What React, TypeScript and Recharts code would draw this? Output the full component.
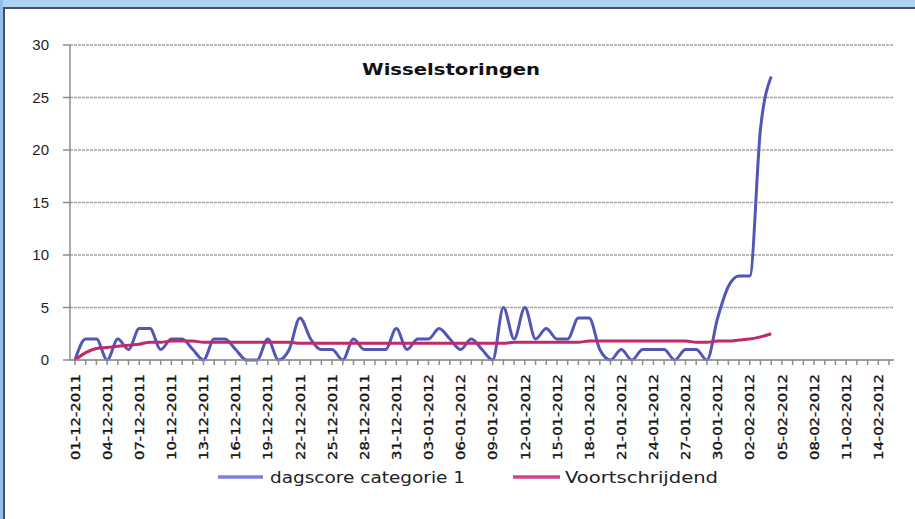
import React from 'react';
import { LineChart, Line, XAxis, YAxis, CartesianGrid } from 'recharts';

// dagen (categorieën)
const dates = [
  '01-12-2011', '02-12-2011', '03-12-2011', '04-12-2011', '05-12-2011', '06-12-2011', '07-12-2011',
  '08-12-2011', '09-12-2011', '10-12-2011', '11-12-2011', '12-12-2011', '13-12-2011', '14-12-2011',
  '15-12-2011', '16-12-2011', '17-12-2011', '18-12-2011', '19-12-2011', '20-12-2011', '21-12-2011',
  '22-12-2011', '23-12-2011', '24-12-2011', '25-12-2011', '26-12-2011', '27-12-2011', '28-12-2011',
  '29-12-2011', '30-12-2011', '31-12-2011', '01-01-2012', '02-01-2012', '03-01-2012', '04-01-2012',
  '05-01-2012', '06-01-2012', '07-01-2012', '08-01-2012', '09-01-2012', '10-01-2012', '11-01-2012',
  '12-01-2012', '13-01-2012', '14-01-2012', '15-01-2012', '16-01-2012', '17-01-2012', '18-01-2012',
  '19-01-2012', '20-01-2012', '21-01-2012', '22-01-2012', '23-01-2012', '24-01-2012', '25-01-2012',
  '26-01-2012', '27-01-2012', '28-01-2012', '29-01-2012', '30-01-2012', '31-01-2012', '01-02-2012',
  '02-02-2012', '03-02-2012', '04-02-2012', '05-02-2012', '06-02-2012', '07-02-2012', '08-02-2012',
  '09-02-2012', '10-02-2012', '11-02-2012', '12-02-2012', '13-02-2012', '14-02-2012', '15-02-2012',
];

const dagscore = [
  0, 2, 2, 0, 2, 1, 3, 3, 1, 2,
  2, 1, 0, 2, 2, 1, 0, 0, 2, 0,
  1, 4, 2, 1, 1, 0, 2, 1, 1, 1,
  3, 1, 2, 2, 3, 2, 1, 2, 1, 0,
  5, 2, 5, 2, 3, 2, 2, 4, 4, 1,
  0, 1, 0, 1, 1, 1, 0, 1, 1, 0,
  4, 7, 8, 8, 22, 27,
];

const voortschrijdend = [
  0, 0.7, 1.1, 1.2, 1.3, 1.4, 1.5, 1.7, 1.7, 1.8,
  1.8, 1.8, 1.7, 1.7, 1.7, 1.7, 1.7, 1.7, 1.7, 1.7,
  1.7, 1.6, 1.6, 1.6, 1.6, 1.6, 1.6, 1.6, 1.6, 1.6,
  1.6, 1.6, 1.6, 1.6, 1.6, 1.6, 1.6, 1.6, 1.6, 1.6,
  1.6, 1.7, 1.7, 1.7, 1.7, 1.7, 1.7, 1.7, 1.8, 1.8,
  1.8, 1.8, 1.8, 1.8, 1.8, 1.8, 1.8, 1.8, 1.7, 1.7,
  1.8, 1.8, 1.9, 2.0, 2.2, 2.5,
];

const yTicks = [0, 5, 10, 15, 20, 25, 30];
const title = 'Wisselstoringen';
const seriesNames = ['dagscore categorie 1', 'Voortschrijdend'];
const BLUE = '#5257b6';
const RED = '#bf2a6b';

const data = dates.map((date, i) => ({
  date,
  dagscore: i < dagscore.length ? dagscore[i] : null,
  voortschrijdend: i < voortschrijdend.length ? voortschrijdend[i] : null,
}));

const DateTick = (props: any) => {
  const { x, payload, index } = props;
  if (index % 3 !== 0) return <g />;
  return (
    <text
      x={x}
      y={374}
      transform={`rotate(-90, ${x}, 374)`}
      textAnchor="end"
      dy="0.36em"
      fontSize={13}
      fontFamily="DejaVu Sans"
      textLength={86}
      lengthAdjust="spacingAndGlyphs"
      fill="#111"
      stroke="#111"
      strokeWidth={0.35}
    >
      {payload.value}
    </text>
  );
};

const App = () => {
  return (
    <div style={{ position: 'absolute', left: 0, top: 0, width: 915, height: 519, background: '#fff', overflow: 'hidden' }}>
      <LineChart
        width={915}
        height={519}
        data={data}
        margin={{ top: 45, right: 21, left: 0, bottom: 59 }}
      >
        <CartesianGrid vertical={false} stroke="#a4a4a4" strokeWidth={1.5} strokeDasharray="3 1" />
        <XAxis
          dataKey="date"
          interval={0}
          height={100}
          padding={{ left: 5, right: 5 }}
          tick={<DateTick />}
          tickSize={5}
          stroke="#8c8c8c"
          strokeWidth={1.5}
        />
        <YAxis
          width={70}
          domain={[0, 30]}
          ticks={yTicks}
          tickSize={7}
          tickMargin={14}
          stroke="#8c8c8c"
          strokeWidth={1.5}
          tick={{ fill: '#1e1e1e', fontSize: 15, fontFamily: 'Liberation Sans' }}
        />
        <Line type="monotone" dataKey="dagscore" stroke={BLUE} strokeWidth={3} dot={false} isAnimationActive={false} />
        <Line type="monotone" dataKey="voortschrijdend" stroke={RED} strokeWidth={3} dot={false} isAnimationActive={false} />
      </LineChart>

      <svg width={915} height={519} style={{ position: 'absolute', left: 0, top: 0, pointerEvents: 'none' }}>
        <text x={451} y={75} textAnchor="middle" fontSize={16} fontWeight="bold" fontFamily="DejaVu Sans" textLength={178} lengthAdjust="spacingAndGlyphs" fill="#111">
          {title}
        </text>
        <line x1={218} y1={477} x2={263} y2={477} stroke="#7d81d8" strokeWidth={3.5} />
        <text x={270} y={483} fontSize={16} fontFamily="DejaVu Sans" textLength={195} lengthAdjust="spacingAndGlyphs" fill="#222">
          {seriesNames[0]}
        </text>
        <line x1={513} y1={477} x2={560} y2={477} stroke="#d4418e" strokeWidth={3.5} />
        <text x={565} y={483} fontSize={16} fontFamily="DejaVu Sans" textLength={153} lengthAdjust="spacingAndGlyphs" fill="#222">
          {seriesNames[1]}
        </text>
      </svg>

      <div style={{ position: 'absolute', left: 0, top: 0, width: 915, height: 7, background: '#aed3f2' }} />
      <div style={{ position: 'absolute', left: 0, top: 7, width: 915, height: 2, background: '#4c4c66' }} />
      <div style={{ position: 'absolute', left: 0, top: 0, width: 3, height: 519, background: '#8fc0ea' }} />
      <div style={{ position: 'absolute', left: 3, top: 7, width: 2, height: 512, background: '#4c4c66' }} />
    </div>
  );
};

export default App;
